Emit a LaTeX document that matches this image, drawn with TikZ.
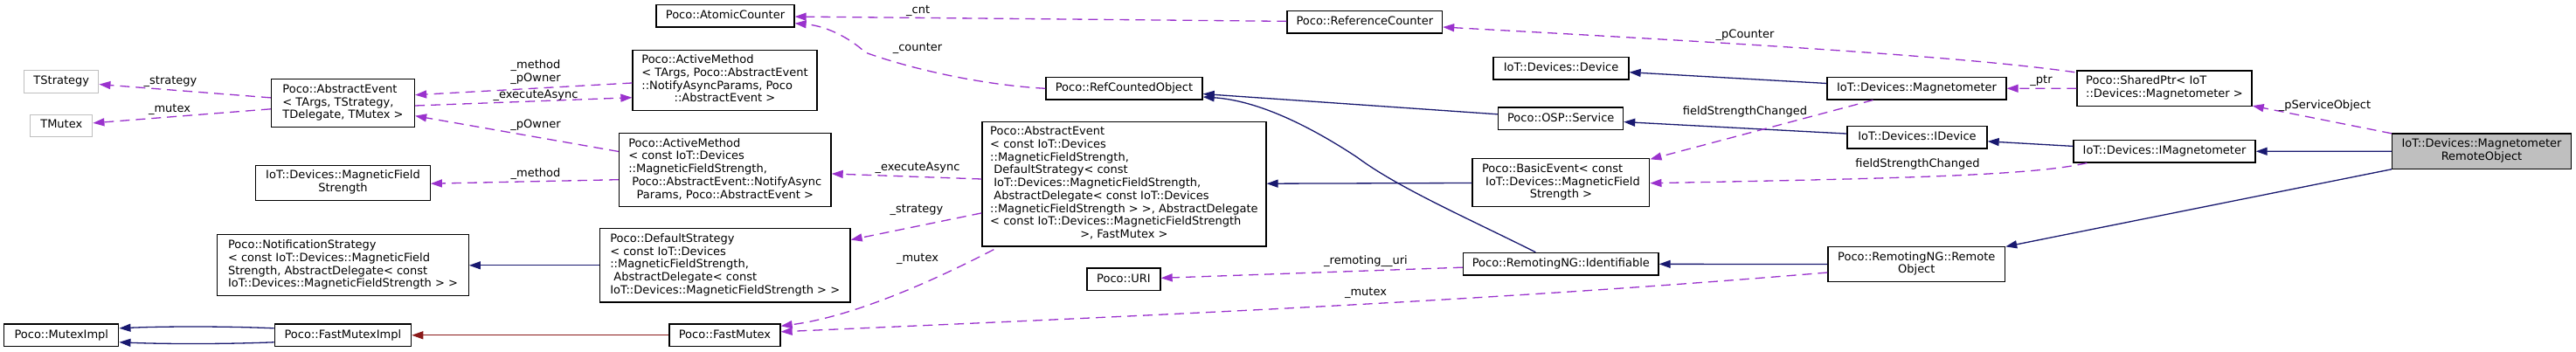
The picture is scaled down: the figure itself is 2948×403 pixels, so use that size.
\documentclass[tikz,border=0pt]{standalone}
\usepackage{fontspec}
\setmainfont{DejaVu Sans}
\usetikzlibrary{arrows.meta,calc}
\definecolor{depc}{HTML}{9A32CD}
\definecolor{inhc}{HTML}{191970}
\definecolor{privc}{HTML}{8B1A1A}
\definecolor{greyc}{HTML}{BFBFBF}
\newcommand\dfont{\fontsize{13}{14.7}\selectfont}
\newcommand\mlines[2]{\begin{tabular}{@{}l@{}}#1\\\multicolumn{1}{@{}c@{}}{#2}\end{tabular}}
\newcommand\clines[1]{\begin{tabular}{@{}c@{}}#1\end{tabular}}
\begin{document}
\begin{tikzpicture}[x=1pt,y=-1pt,
 nbox/.style={draw=black, line width=1.3pt, rectangle, inner sep=0pt, font=\dfont, fill=white},
 gbox/.style={nbox, draw=greyc},
 mbox/.style={nbox, fill=greyc},
 one/.style={text height=10pt, text depth=3.5pt},
 arr/.style={-{Triangle[length=13pt,width=9pt]}},
 dep/.style={draw=depc, line width=1.3pt, dash pattern=on 11pt off 7pt, arr},
 inh/.style={draw=inhc, line width=1.3pt, arr},
 priv/.style={draw=privc, line width=1.3pt, arr},
 lbl/.style={font=\dfont, inner sep=0pt},
]
\useasboundingbox[fill=white] (0,0) rectangle (2948,403);

% nodes
\node[gbox, one, minimum width=85pt, minimum height=26pt] (tstrat) at (70.3,93.2) {TStrategy};
\node[gbox, one, minimum width=71pt, minimum height=25pt] (tmutex) at (70.3,143.7) {TMutex};
\node[nbox, minimum width=164pt, minimum height=55pt] (aeT) at (392.5,118.3) {\mlines{Poco::AbstractEvent\\< TArgs, TStrategy,}{TDelegate, TMutex >}};
\node[nbox, minimum width=199.5pt, minimum height=40pt] (mfs) at (392.5,209.2) {\clines{IoT::Devices::MagneticField\\Strength}};
\node[nbox, minimum width=287.5pt, minimum height=70pt] (notif) at (392.5,303.8) {\mlines{Poco::NotificationStrategy\\< const IoT::Devices::MagneticField\\Strength, AbstractDelegate< const}{IoT::Devices::MagneticFieldStrength > >}};
\node[nbox, one, minimum width=131pt, minimum height=25.7pt] (mutexImpl) at (70.3,383.8) {Poco::MutexImpl};
\node[nbox, one, minimum width=156.4pt, minimum height=25.7pt] (fastMutexImpl) at (392.4,383.8) {Poco::FastMutexImpl};
\node[nbox, minimum width=211pt, minimum height=69.4pt] (amT) at (829.5,92) {\mlines{Poco::ActiveMethod\\< TArgs, Poco::AbstractEvent\\::NotifyAsyncParams, Poco}{::AbstractEvent >}};
\node[nbox, minimum width=242.5pt, minimum height=84pt] (amC) at (829.8,194.7) {\mlines{Poco::ActiveMethod\\< const IoT::Devices\\::MagneticFieldStrength,\\\ Poco::AbstractEvent::NotifyAsync}{Params, Poco::AbstractEvent >}};
\node[nbox, minimum width=286.6pt, minimum height=84.3pt] (defStrat) at (829.7,303.8) {\mlines{Poco::DefaultStrategy\\< const IoT::Devices\\::MagneticFieldStrength,\\\ AbstractDelegate< const}{IoT::Devices::MagneticFieldStrength > >}};
\node[nbox, one, minimum width=127pt, minimum height=25.7pt] (fastMutex) at (829.5,383.8) {Poco::FastMutex};
\node[nbox, one, minimum width=158pt, minimum height=25.3pt] (atomic) at (830,18.3) {Poco::AtomicCounter};
\node[nbox, one, minimum width=179pt, minimum height=25.3pt] (refCounted) at (1286.5,101.3) {Poco::RefCountedObject};
\node[nbox, minimum width=325pt, minimum height=142.7pt] (aeC) at (1286.4,210.7) {\mlines{Poco::AbstractEvent\\< const IoT::Devices\\::MagneticFieldStrength,\\\ DefaultStrategy< const\\\ IoT::Devices::MagneticFieldStrength,\\\ AbstractDelegate< const IoT::Devices\\::MagneticFieldStrength > >, AbstractDelegate\\< const IoT::Devices::MagneticFieldStrength}{>, FastMutex >}};
\node[nbox, one, minimum width=84pt, minimum height=25.7pt] (uri) at (1286,319.8) {Poco::URI};
\node[nbox, one, minimum width=177.5pt, minimum height=25.7pt] (refCounter) at (1561.8,25.2) {Poco::ReferenceCounter};
\node[nbox, one, minimum width=155pt, minimum height=25.3pt] (device) at (1786.5,78.3) {IoT::Devices::Device};
\node[nbox, one, minimum width=142.8pt, minimum height=25.7pt] (service) at (1786.2,135.8) {Poco::OSP::Service};
\node[nbox, minimum width=202.8pt, minimum height=55pt] (basicEvent) at (1786.4,209.2) {\mlines{Poco::BasicEvent< const\\\ IoT::Devices::MagneticField}{Strength >}};
\node[nbox, one, minimum width=223.5pt, minimum height=25.7pt] (identifiable) at (1786.3,302.2) {Poco::RemotingNG::Identifiable};
\node[nbox, one, minimum width=205pt, minimum height=25.3pt] (magnetometer) at (2193.5,101.3) {IoT::Devices::Magnetometer};
\node[nbox, one, minimum width=160pt, minimum height=25.3pt] (idevice) at (2194,157.3) {IoT::Devices::IDevice};
\node[nbox, minimum width=202.5pt, minimum height=40pt] (remoteObj) at (2193.3,302.7) {\clines{Poco::RemotingNG::Remote\\Object}};
\node[nbox, minimum width=200pt, minimum height=40.3pt] (sharedPtr) at (2477,101.2) {\mlines{Poco::SharedPtr< IoT}{::Devices::Magnetometer >}};
\node[nbox, one, minimum width=208pt, minimum height=25.3pt] (imagnet) at (2477,173.3) {IoT::Devices::IMagnetometer};
\node[mbox, minimum width=204.6pt, minimum height=40.3pt] (main) at (2840,173.2) {\clines{IoT::Devices::Magnetometer\\RemoteObject}};

% edges
\draw[dep] (aeT) -- (tstrat) node[lbl] (l1) at (195,93) {\_strategy};
\draw[dep] (aeT) -- (tmutex) node[lbl] (l2) at (194,125) {\_mutex};
\draw[dep] ($(amT.west)+(0,3)$) -- ($(aeT.east)+(0,-9.6)$) node[lbl, align=center] (l3) at (613,82.5) {\_method\\\_pOwner};
\draw[dep] ($(aeT.east)+(0,2.7)$) -- ($(amT.west)+(0,19.7)$) node[lbl] (l4) at (613,109) {\_executeAsync};
\draw[dep] (amC) -- (aeT) node[lbl] (l5) at (613,143) {\_pOwner};
\draw[dep] ($(amC.west)+(0,11)$) -- ($(mfs.east)+(0,1)$) node[lbl] (l6) at (613,199) {\_method};
\draw[inh] (defStrat) -- (notif);
\draw[inh] ($(fastMutexImpl.west)+(0,-8)$) .. controls (260,373.5) and (190,373.5) .. ($(mutexImpl.east)+(0,-8)$);
\draw[inh] ($(fastMutexImpl.west)+(0,8)$) .. controls (260,394) and (190,394) .. ($(mutexImpl.east)+(0,8)$);
\draw[priv] (fastMutex) -- (fastMutexImpl);
\draw[dep] (refCounted.west) .. controls (1120,97) and (1040,78) .. (990,60) .. controls (978,48) and (950,30) .. ($(atomic.east)+(0,8.4)$) node[lbl] (l7) at (1050,55.7) {\_counter};
\draw[dep] (refCounter) -- (atomic) node[lbl] (l8) at (1050.6,12.7) {\_cnt};
\draw[dep] (aeC) -- (amC) node[lbl] (l9) at (1050,192.7) {\_executeAsync};
\draw[dep] (aeC) -- (defStrat) node[lbl] (l10) at (1049,240.7) {\_strategy};
\draw[dep] ($(aeC.south west)+(14,3)$) .. controls (1075,318) and (980,362) .. ($(fastMutex.east)+(0,-10.5)$) node[lbl] (l11) at (1050,296.7) {\_mutex};
\draw[dep] (identifiable) -- (uri) node[lbl] (l12) at (1563,299.3) {\_remoting\_\_uri};
\draw[dep] ($(remoteObj.west)+(0,9.3)$) .. controls (1700,345) and (1300,362) .. ($(fastMutex.east)+(0,-4)$) node[lbl] (l13) at (1563,335.7) {\_mutex};
\draw[inh] (basicEvent) -- (aeC);
\draw[inh] (service) -- (refCounted);
\draw[inh] ($(identifiable.north)+(-29,0)$) .. controls (1680,250) and (1600,215) .. (1553,180) .. controls (1500,145) and (1440,115) .. ($(refCounted.east)+(0,9.7)$);
\draw[inh] (magnetometer) -- (device);
\draw[inh] (idevice) -- (service);
\draw[dep] (magnetometer) -- (basicEvent) node[lbl] (l14) at (1997,128) {fieldStrengthChanged};
\draw[dep] ($(imagnet.south west)+(16,0)$) .. controls (2330,200) and (2200,204) .. ($(basicEvent.east)+(0,0.5)$) node[lbl] (l15) at (2194.5,188.3) {fieldStrengthChanged};
\draw[inh] (remoteObj) -- (identifiable);
\draw[dep] ($(sharedPtr.north west)+(-2,2.3)$) .. controls (2250,65) and (2000,50) .. ($(refCounter.east)+(0,5.8)$) node[lbl] (l16) at (1997,40.7) {\_pCounter};
\draw[dep] (sharedPtr) -- (magnetometer) node[lbl] (l17) at (2336,92.7) {\_ptr};
\draw[inh] (imagnet) -- (idevice);
\draw[dep] (main) -- (sharedPtr) node[lbl] (l18) at (2660.5,120.7) {\_pServiceObject};
\draw[inh] (main) -- (imagnet);
\draw[inh] (main) -- (remoteObj);
\end{tikzpicture}
\end{document}
